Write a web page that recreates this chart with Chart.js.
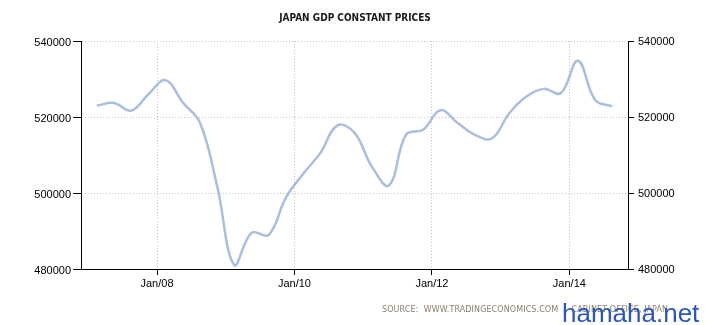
<!DOCTYPE html>
<html>
<head>
<meta charset="utf-8">
<title>Japan GDP Constant Prices</title>
<script src="https://cdn.jsdelivr.net/npm/chart.js@4/dist/chart.umd.min.js"></script>
<style>
    html, body { margin: 0; padding: 0; background: #fff; }
    #wrap { position: relative; width: 710px; height: 325px; overflow: hidden; }
    #source {
        position: absolute; left: 382px; top: 305px;
        font: 8px "DejaVu Sans", sans-serif; letter-spacing: 0.1px;
        color: #8c8070; white-space: nowrap;
    }
    #mark {
        position: absolute; left: 562px; top: 298px;
        font: 26px "Liberation Sans", Arial, sans-serif;
        color: #2e57b5; white-space: nowrap;
    }
</style>
</head>
<body>
<div id="wrap">
    <canvas id="gdpChart" width="710" height="325"></canvas>
    <div id="source">SOURCE:&nbsp; WWW.TRADINGECONOMICS.COM &nbsp;| &nbsp;CABINET OFFICE, JAPAN</div>
    <div id="mark">hamaha.net</div>
</div>
<script>
// Trimestri (Q1 2007 - Q3 2014)
const quarters = [
    '2007Q1', '2007Q2', '2007Q3', '2007Q4',
    '2008Q1', '2008Q2', '2008Q3', '2008Q4',
    '2009Q1', '2009Q2', '2009Q3', '2009Q4',
    '2010Q1', '2010Q2', '2010Q3', '2010Q4',
    '2011Q1', '2011Q2', '2011Q3', '2011Q4',
    '2012Q1', '2012Q2', '2012Q3', '2012Q4',
    '2013Q1', '2013Q2', '2013Q3', '2013Q4',
    '2014Q1', '2014Q2', '2014Q3'
];

// PIL a prezzi costanti (JPY miliardi)
const gdpValues = [
    523000, 523700, 521650, 526000,
    529700, 523800, 518500, 501800,
    481000, 489500, 489000, 498800,
    505000, 510500, 517800, 515800,
    507000, 502000, 515400, 516700,
    521800, 518400, 515300, 514400,
    521000, 525400, 527400, 526300,
    534800, 524500, 522800
];

// Etichette asse X (gennaio degli anni pari)
const tickYears = [2008, 2010, 2012, 2014];
const tickLabels = ['Jan/08', 'Jan/10', 'Jan/12', 'Jan/14'];

// Asse Y
const yMin = 480000;
const yMax = 540000;
const yStep = 20000;

const xMin = 2006.894;
const xMax = 2014.853;

/**
 * Converte '2007Q1' nell'anno decimale a metà trimestre
 */
function quarterToYear(q) {
    const year = parseInt(q.slice(0, 4), 10);
    const n = parseInt(q.slice(5), 10);
    return year + (n - 1) * 0.25 + 0.125;
}

const points = quarters.map(function(q, i) {
    return { x: quarterToYear(q), y: gdpValues[i] };
});

const axisFont = { family: '"Liberation Sans", Arial, sans-serif', size: 11 };

// Valori interi senza separatore delle migliaia
function plainNumber(value) {
    return String(value);
}

const ctx = document.getElementById('gdpChart').getContext('2d');
new Chart(ctx, {
    type: 'line',
    data: {
        datasets: [{
            label: 'GDP',
            data: points,
            borderColor: '#a9bfdd',
            borderWidth: 2.5,
            tension: 0.4,
            pointRadius: 0,
            fill: false,
            yAxisID: 'y'
        }]
    },
    options: {
        responsive: false,
        animation: false,
        layout: { padding: { left: 0, right: 0, top: 0, bottom: 0 } },
        plugins: {
            legend: { display: false },
            tooltip: { enabled: false },
            title: {
                display: true,
                text: 'JAPAN GDP CONSTANT PRICES',
                color: '#1a1a1a',
                font: { family: '"DejaVu Sans Condensed", "DejaVu Sans", sans-serif', size: 10, weight: 'bold' },
                padding: { top: 12, bottom: 17 }
            }
        },
        scales: {
            x: {
                type: 'linear',
                min: xMin,
                max: xMax,
                afterBuildTicks: function(scale) {
                    scale.ticks = tickYears.map(function(v) { return { value: v }; });
                },
                afterFit: function(scale) { scale.height = 56; },
                ticks: {
                    autoSkip: false,
                    maxRotation: 0,
                    padding: 2,
                    color: '#000',
                    font: axisFont,
                    callback: function(value) {
                        return tickLabels[tickYears.indexOf(value)];
                    }
                },
                grid: {
                    color: '#c4c4c4',
                    tickColor: '#000',
                    tickLength: 6,
                    tickBorderDash: []
                },
                border: { display: true, color: '#000', width: 1, dash: [1, 2] }
            },
            y: {
                type: 'linear',
                position: 'left',
                min: yMin,
                max: yMax,
                afterFit: function(scale) { scale.width = 81; },
                ticks: {
                    stepSize: yStep,
                    padding: 2,
                    labelOffset: 2,
                    color: '#000',
                    font: axisFont,
                    callback: plainNumber
                },
                grid: {
                    color: '#c4c4c4',
                    tickColor: '#000',
                    tickLength: 8,
                    tickBorderDash: []
                },
                border: { display: true, color: '#000', width: 1, dash: [1, 2] }
            },
            y1: {
                type: 'linear',
                position: 'right',
                min: yMin,
                max: yMax,
                afterFit: function(scale) { scale.width = 82; },
                ticks: {
                    stepSize: yStep,
                    padding: 4,
                    labelOffset: 1,
                    color: '#000',
                    font: axisFont,
                    callback: plainNumber
                },
                grid: {
                    drawOnChartArea: false,
                    tickColor: '#000',
                    tickLength: 6
                },
                border: { display: true, color: '#000', width: 1 }
            }
        }
    }
});
</script>
</body>
</html>
